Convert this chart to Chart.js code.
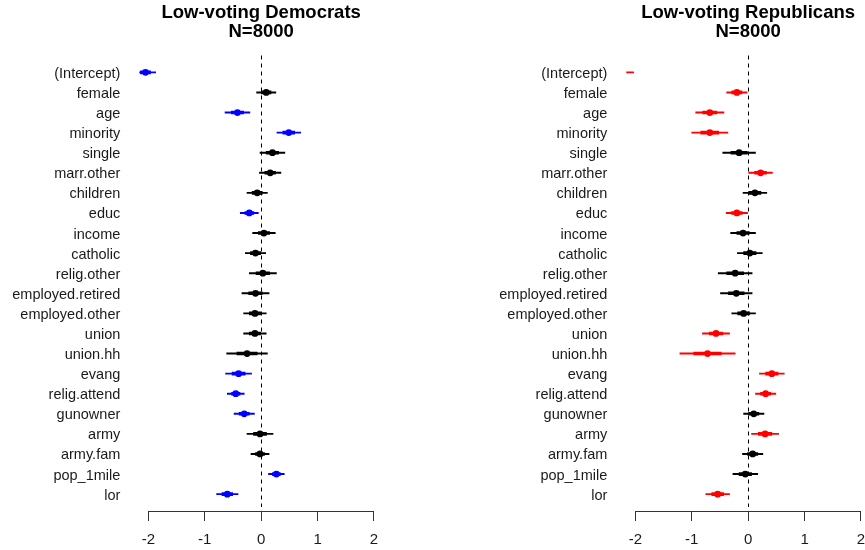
<!DOCTYPE html>
<html>
<head>
<meta charset="utf-8">
<script src="https://cdn.jsdelivr.net/npm/chart.js@4/dist/chart.umd.min.js"></script>
<style>
  html, body { margin: 0; padding: 0; background: #fff; overflow: hidden; width: 865px; height: 550px; }
  .panel { position: absolute; top: 0; width: 390px; height: 550px; }
  #dem { left: 0; }
  #rep { left: 487px; }
</style>
</head>
<body>
<div class="panel" id="dem"><canvas id="demChart" width="390" height="550"></canvas></div>
<div class="panel" id="rep"><canvas id="repChart" width="390" height="550"></canvas></div>
<script>
// Model terms, top to bottom
const coefNames = ['(Intercept)', 'female', 'age', 'minority', 'single', 'marr.other', 'children',
  'educ', 'income', 'catholic', 'relig.other', 'employed.retired', 'employed.other', 'union',
  'union.hh', 'evang', 'relig.attend', 'gunowner', 'army', 'army.fam', 'pop_1mile', 'lor'];

// Low-voting Democrats: coefficient estimates and standard errors
const demTitle = ['Low-voting Democrats', 'N=8000'];
const demEst = [-2.05, 0.09, -0.42, 0.49, 0.20, 0.16, -0.07, -0.21, 0.05, -0.10, 0.03,
  -0.10, -0.11, -0.11, -0.25, -0.40, -0.45, -0.30, -0.02, -0.02, 0.27, -0.60];
const demSe = [0.09, 0.085, 0.11, 0.105, 0.11, 0.095, 0.09, 0.08, 0.10, 0.09, 0.12,
  0.12, 0.10, 0.10, 0.18, 0.115, 0.075, 0.09, 0.115, 0.08, 0.07, 0.095];

// Low-voting Republicans: coefficient estimates and standard errors
const repTitle = ['Low-voting Republicans', 'N=8000'];
const repEst = [-2.35, -0.20, -0.68, -0.68, -0.16, 0.22, 0.12, -0.20, -0.09, 0.03, -0.23,
  -0.21, -0.08, -0.57, -0.72, 0.42, 0.31, 0.10, 0.30, 0.08, -0.05, -0.54];
const repSe = [0.16, 0.09, 0.125, 0.16, 0.145, 0.105, 0.105, 0.095, 0.11, 0.11, 0.15,
  0.14, 0.105, 0.12, 0.245, 0.11, 0.09, 0.09, 0.12, 0.09, 0.11, 0.105];

const xTicks = [-2, -1, 0, 1, 2];
const refValue = 0;

const FONT = '"Liberation Sans", Arial, sans-serif';
const TEXT = '#1a1a1a';

// Titles, dashed reference line and the x axis line between the outer ticks
const panelDecor = {
  id: 'panelDecor',
  beforeDatasetsDraw(chart) {
    const { ctx, chartArea, scales } = chart;
    const x0 = scales.x.getPixelForValue(refValue);
    ctx.save();
    ctx.strokeStyle = '#000';
    ctx.lineWidth = 1;
    ctx.setLineDash([4, 4]);
    ctx.beginPath();
    ctx.moveTo(Math.round(x0) + 0.5, chartArea.top);
    ctx.lineTo(Math.round(x0) + 0.5, chartArea.bottom - 4);
    ctx.stroke();
    ctx.restore();
  },
  afterDraw(chart, args, opts) {
    const { ctx, chartArea, scales } = chart;
    ctx.save();
    ctx.strokeStyle = '#333';
    ctx.lineWidth = 1;
    const y = Math.round(chartArea.bottom) + 0.5;
    ctx.beginPath();
    ctx.moveTo(scales.x.getPixelForValue(xTicks[0]), y);
    ctx.lineTo(scales.x.getPixelForValue(xTicks[xTicks.length - 1]), y);
    ctx.stroke();
    const cx = (chartArea.left + chartArea.right) / 2;
    ctx.fillStyle = '#000';
    ctx.font = 'bold 18.5px ' + FONT;
    ctx.textAlign = 'center';
    ctx.textBaseline = 'middle';
    ctx.fillText(opts.lines[0], cx, 13);
    ctx.fillText(opts.lines[1], cx, 32);
    ctx.restore();
  }
};

function makePanel(canvasId, titleLines, est, se, sigColor) {
  const n = coefNames.length;
  const rows = coefNames.map((_, i) => i + 1);
  const colors = est.map((e, i) => Math.abs(e) > 2 * se[i] ? sigColor : '#000000');
  const twoSe = est.map((e, i) => ({ x: [e - 2 * se[i], e + 2 * se[i]], y: rows[i] }));
  const oneSe = est.map((e, i) => ({ x: [e - se[i], e + se[i]], y: rows[i] }));
  const points = est.map((e, i) => ({ x: e, y: rows[i] }));

  return new Chart(document.getElementById(canvasId), {
    type: 'bar',
    data: {
      datasets: [
        { type: 'bar', data: twoSe, backgroundColor: colors, barThickness: 1.3,
          borderWidth: 0, grouped: false, clip: 0 },
        { type: 'bar', data: oneSe, backgroundColor: colors, barThickness: 3,
          borderWidth: 0, grouped: false, clip: 0 },
        { type: 'line', data: points, showLine: false, pointRadius: 3.4, pointHoverRadius: 3.4,
          pointStyle: 'circle', pointBackgroundColor: colors, pointBorderWidth: 0, clip: 0 }
      ]
    },
    options: {
      indexAxis: 'y',
      responsive: false,
      animation: false,
      events: [],
      layout: { padding: { top: 55.5, right: 7, left: 0, bottom: 0 } },
      plugins: {
        legend: { display: false },
        tooltip: { enabled: false },
        title: { display: false },
        panelDecor: { lines: titleLines }
      },
      scales: {
        x: {
          type: 'linear',
          min: -2.16,
          max: 2.16,
          bounds: 'data',
          offset: false,
          afterBuildTicks: (axis) => { axis.ticks = xTicks.map(v => ({ value: v })); },
          afterFit: (axis) => { axis.height = 39; },
          grid: { display: true, drawOnChartArea: false, drawTicks: true, tickLength: 10,
            color: '#333', lineWidth: 1, offset: false },
          border: { display: false },
          ticks: { font: { family: FONT, size: 15 }, color: TEXT, padding: 10,
            maxRotation: 0, autoSkip: false }
        },
        y: {
          type: 'linear',
          reverse: true,
          min: 0.16,
          max: n + 0.84,
          bounds: 'data',
          offset: false,
          afterBuildTicks: (axis) => { axis.ticks = rows.map(v => ({ value: v })); },
          afterFit: (axis) => { axis.width = 139.3; },
          grid: { display: false, drawTicks: false, offset: false },
          border: { display: false },
          ticks: {
            callback: (v) => coefNames[v - 1],
            font: { family: FONT, size: 14.5 },
            color: TEXT,
            padding: 19,
            labelOffset: 1.5,
            autoSkip: false
          }
        }
      }
    },
    plugins: [panelDecor]
  });
}

makePanel('demChart', demTitle, demEst, demSe, '#0000ff');
makePanel('repChart', repTitle, repEst, repSe, '#ff0000');
</script>
</body>
</html>
